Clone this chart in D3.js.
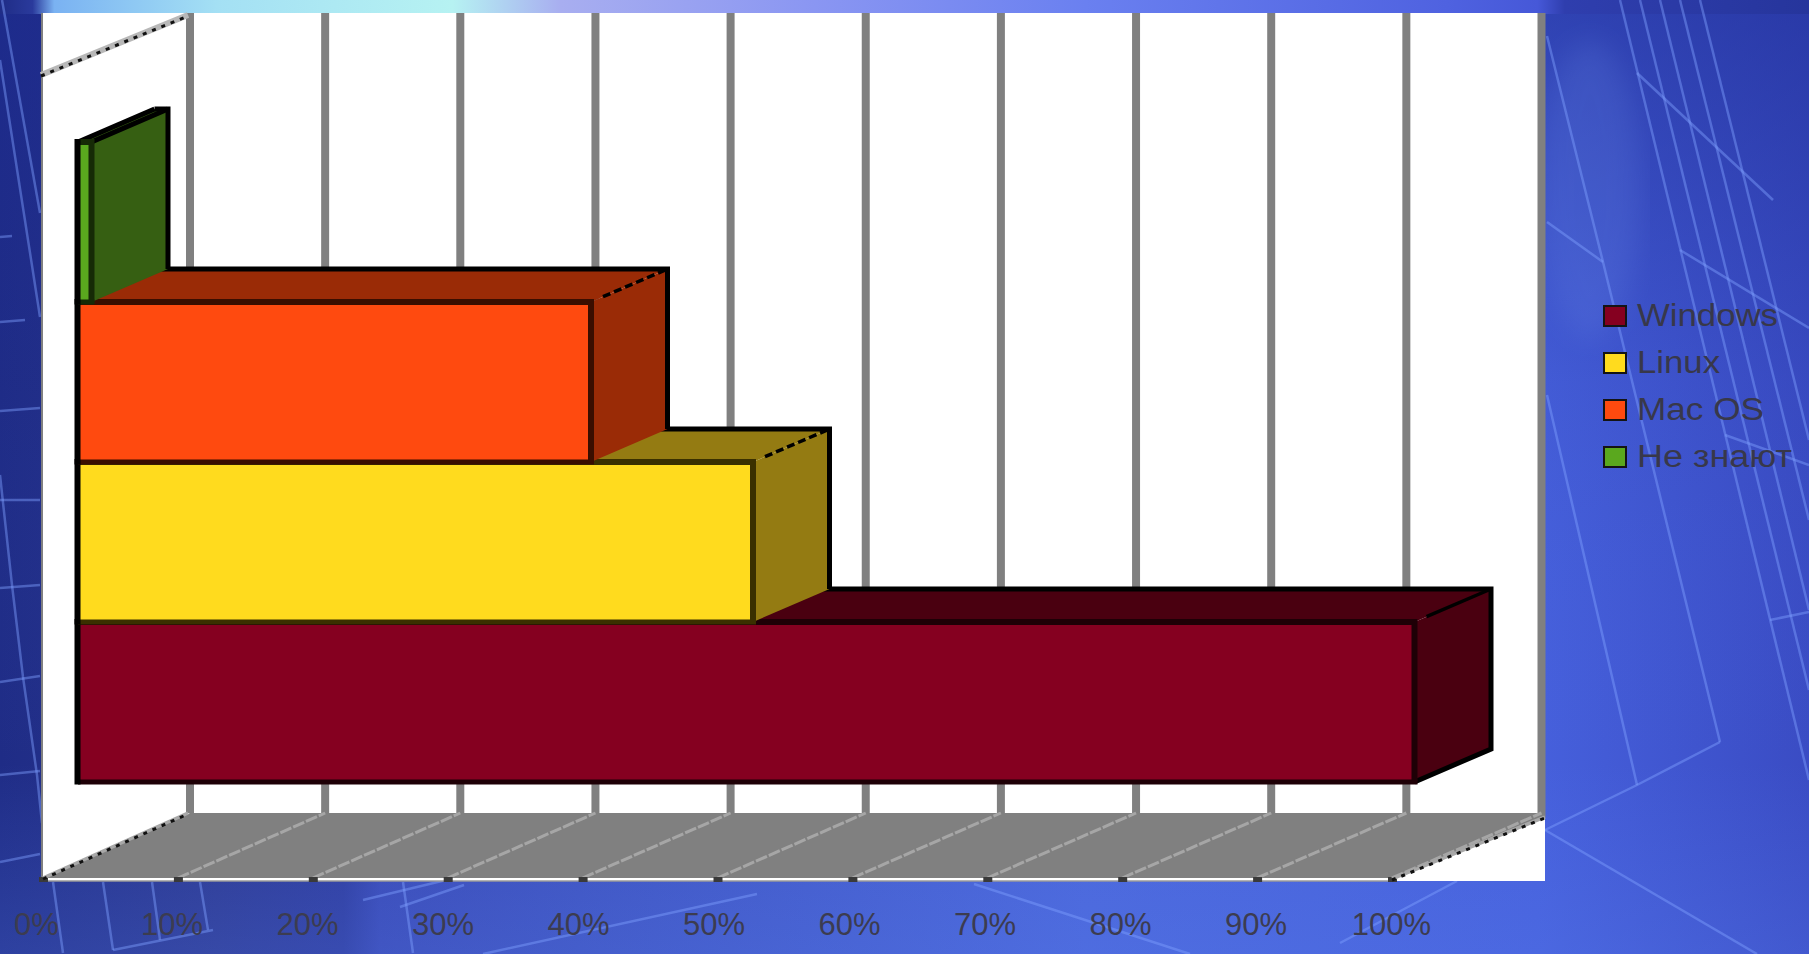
<!DOCTYPE html>
<html><head><meta charset="utf-8">
<script src="https://cdn.jsdelivr.net/npm/d3@7/dist/d3.min.js"></script>
<style>html,body{margin:0;padding:0;overflow:hidden;background:#3a4cc0}svg{display:block}</style>
</head><body><svg id="c" width="1809" height="954"></svg>
<script>
const categories = ["Windows", "Linux", "Mac OS", "Не знают"];
const values = [99, 50, 38, 1];
const tickValues = [0, 10, 20, 30, 40, 50, 60, 70, 80, 90, 100];
const faceColors = ["#850020", "#ffdb1e", "#ff4a0f", "#5aa81e"];
const sideColors = ["#4a0010", "#947b12", "#9a2b06", "#365f12"];
const edgeColors = ["#1e0006", "#3a3000", "#3a0e00", "#162a06"];

const svg = d3.select("#c");
const defs = svg.append("defs");
function grad(id, stops, x2, y2) {
  const g = defs.append("linearGradient").attr("id", id).attr("x1", 0).attr("y1", 0).attr("x2", x2).attr("y2", y2);
  stops.forEach(s => g.append("stop").attr("offset", s[0]).attr("stop-color", s[1]).attr("stop-opacity", s[2] === undefined ? 1 : s[2]));
}
grad("bgH", [[0, "#1f2c86"], [0.12, "#2b378f"], [0.19, "#2d3a9c"], [0.21, "#3848b4"], [0.32, "#3d52bf"], [0.6, "#4a66da"], [0.85, "#4660dc"], [1, "#3a4cc4"]], 1, 0);
grad("bgV", [[0, "#1c2a90", 0.55], [0.4, "#1c2a90", 0.08], [0.8, "#5a80f0", 0], [1, "#5a80f0", 0.25]], 0, 1);
grad("topStrip", [[0, "#1f2c86"], [0.018, "#2a3a9c"], [0.03, "#7ab2f2"], [0.12, "#a4e0f4"], [0.25, "#b6f2f2"], [0.31, "#a8aef0"], [0.45, "#8a96f2"], [0.6, "#6a80f0"], [0.8, "#4f62e0"], [0.85, "#4658d8"], [0.865, "#2f3eae"], [1, "#26359c"]], 1, 0);
defs.append("filter").attr("id", "soft").append("feGaussianBlur").attr("stdDeviation", 14);

// Background artwork
svg.append("rect").attr("width", 1809).attr("height", 954).attr("fill", "url(#bgH)");
svg.append("rect").attr("width", 1809).attr("height", 954).attr("fill", "url(#bgV)");
svg.append("rect").attr("width", 1809).attr("height", 14).attr("fill", "url(#topStrip)");
svg.append("ellipse").attr("cx", 1590).attr("cy", 190).attr("rx", 50).attr("ry", 150).attr("fill", "#7a9cf4").attr("opacity", 0.16).attr("filter", "url(#soft)");
const bgLines = [
  [[1547,36],[1603,262],[1720,742]], [[1547,222],[1603,262]], [[1547,395],[1637,785]],
  [[1720,742],[1637,785],[1545,830]], [[1545,830],[1757,954]],
  [[1620,0],[1809,780]], [[1640,0],[1809,690]], [[1660,0],[1809,610]], [[1680,0],[1809,520]], [[1700,0],[1809,440]],
  [[1637,73],[1773,200]], [[1680,250],[1809,328]], [[1725,435],[1809,465]], [[1770,620],[1809,612]],
  [[2,0],[40,213]], [[0,60],[40,317]], [[0,237],[12,236]], [[0,322],[25,320]], [[0,411],[40,408]], [[0,500],[40,500]],
  [[0,588],[40,585]], [[0,682],[40,676]], [[0,775],[40,771]], [[0,862],[40,854]],
  [[0,475],[12,585],[23,677],[37,775],[42,823]],
  [[974,884],[1190,954]], [[400,907],[464,885]], [[483,954],[757,894]], [[1340,943],[1457,881]],
  [[363,900],[500,867]], [[113,950],[213,930]], [[103,882],[113,950]], [[152,882],[160,940]], [[200,882],[208,930]],
  [[53,882],[63,953]], [[403,882],[413,953]]
];
const lineGen = d3.line();
svg.append("g").selectAll("path").data(bgLines).join("path")
  .attr("d", d => lineGen(d)).attr("fill", "none").attr("stroke", "#7fa0ff").attr("stroke-width", 2.5).attr("opacity", 0.45);

// Panel
const panel = {x0: 41, x1: 1545, y0: 13, y1: 881};
svg.append("rect").attr("x", panel.x0).attr("y", panel.y0).attr("width", panel.x1 - panel.x0).attr("height", panel.y1 - panel.y0).attr("fill", "#fff");
svg.append("line").attr("x1", panel.x0 + 1).attr("x2", panel.x0 + 1).attr("y1", panel.y0).attr("y2", panel.y1).attr("stroke", "#808080").attr("stroke-width", 2);

const floorFront = 878, floorBack = 813;
const xFront = d3.scaleLinear().domain([0, 100]).range([43, 1392]);
const xBack = d3.scaleLinear().domain([0, 100]).range([190, 1541.5]);
const xBar = d3.scaleLinear().domain([0, 100]).range([78, 1428]);
const yBand = d3.scaleBand().domain(categories).range([782, 142]);
const labelX = d3.scaleLinear().domain([0, 100]).range([36, 1391]);
const depth = {dx: 76.5, dy: -33};

// Back wall gridlines
svg.append("g").selectAll("line").data(tickValues).join("line")
  .attr("x1", d => xBack(d)).attr("x2", d => xBack(d)).attr("y1", panel.y0).attr("y2", floorBack)
  .attr("stroke", "#808080").attr("stroke-width", 8);

// Floor
svg.append("path").attr("fill", "#808080")
  .attr("d", lineGen([[xFront(0), floorFront], [xBack(0), floorBack], [xBack(100) + 4, floorBack], [xBack(100) + 4, floorBack + 4], [xFront(100), floorFront]]));
svg.append("g").selectAll("line").data(tickValues.slice(1, -1).concat([100])).join("line")
  .attr("x1", d => xFront(d)).attr("y1", floorFront).attr("x2", d => xBack(d)).attr("y2", floorBack)
  .attr("stroke", "#a6a6a6").attr("stroke-width", 3).attr("stroke-dasharray", "12 2");
svg.append("line").attr("x1", panel.x0).attr("x2", panel.x1).attr("y1", 879.5).attr("y2", 879.5).attr("stroke", "#fff").attr("stroke-width", 2);
svg.append("line").attr("x1", panel.x0).attr("x2", xFront(100)).attr("y1", 881).attr("y2", 881).attr("stroke", "#9a9a9a").attr("stroke-width", 1.5);
svg.append("g").selectAll("rect").data(tickValues).join("rect")
  .attr("x", d => xFront(d) - 4).attr("y", 877).attr("width", 9).attr("height", 5).attr("fill", "#3a3a3a");

// Dashed edges of the wall and floor
const dashed = [
  [[panel.x0, 75], [xBack(0) - 2, 15]],
  [[xFront(0), floorFront], [xBack(0) - 2, floorBack]],
  [[xFront(100), floorFront + 1], [panel.x1, 817]]
];
dashed.forEach((s, i) => {
  svg.append("path").attr("d", lineGen(s)).attr("stroke", i === 0 ? "#b8b8b8" : "#a8a8a8").attr("stroke-width", i === 0 ? 6 : 3.5).attr("fill", "none");
  svg.append("path").attr("d", lineGen(s.map(p => [p[0], p[1] + 1]))).attr("stroke", "#111").attr("stroke-width", 3).attr("stroke-dasharray", "4 6").attr("fill", "none");
});

// Bars: each higher bar overlaps the top face of the one below
const bars = categories.map((c, i) => ({c, v: values[i], i}));
const barG = svg.append("g").selectAll("g").data(bars).join("g");
barG.each(function (d) {
  const g = d3.select(this);
  const x0 = xBar(0), x1 = xBar(d.v), y0 = yBand(d.c), y1 = y0 + yBand.bandwidth();
  const bx0 = x0 + depth.dx, bx1 = x1 + depth.dx, by0 = y0 + depth.dy, by1 = y1 + depth.dy;
  g.append("path").attr("fill", sideColors[d.i]).attr("d", lineGen([[x0, y0], [bx0, by0], [bx1, by0], [x1, y0]]) + "Z");
  g.append("path").attr("fill", sideColors[d.i]).attr("d", lineGen([[x1, y0], [bx1, by0], [bx1, by1], [x1, y1]]) + "Z");
  // Back and right outline
  const isGreen = d.i === 3, isWindows = d.i === 0;
  const outline = isWindows ? [[bx0, by0], [bx1, by0], [bx1, by1], [x1, y1]] : [[bx0, by0], [bx1, by0], [bx1, by1]];
  g.append("path").attr("fill", "none").attr("stroke", "#000").attr("stroke-width", 5).attr("d", lineGen(outline));
  if (isGreen) {
    g.append("line").attr("x1", x0).attr("y1", y0).attr("x2", bx0).attr("y2", by0).attr("stroke", "#000").attr("stroke-width", 5);
    g.append("line").attr("x1", x1).attr("y1", y0).attr("x2", bx1).attr("y2", by0).attr("stroke", "#000").attr("stroke-width", 5);
  } else {
    g.append("line").attr("x1", x1 + 12).attr("y1", y0 - 5.3).attr("x2", bx1).attr("y2", by0)
      .attr("stroke", "#000").attr("stroke-width", 3.5).attr("stroke-dasharray", isWindows ? null : "8 4");
  }
  g.append("rect").attr("x", x0).attr("y", y0).attr("width", x1 - x0).attr("height", y1 - y0)
    .attr("fill", faceColors[d.i]);
  g.append("path").attr("fill", "none").attr("stroke", edgeColors[d.i]).attr("stroke-width", 6)
    .attr("d", lineGen([[x0, y0], [x1, y0], [x1, y1]]));
  g.append("line").attr("x1", x0).attr("x2", x1 + 3).attr("y1", y1).attr("y2", y1).attr("stroke", edgeColors[d.i]).attr("stroke-width", 5);
  g.append("path").attr("fill", "none").attr("stroke", "#000").attr("stroke-width", 6)
    .attr("d", lineGen([[x0 - 0.5, y0 - 3], [x0 - 0.5, y1 + 2.5]]));
});

// Value axis labels
const axis = d3.axisBottom(labelX).tickValues(tickValues).tickFormat(d => d + "%").tickSize(0);
const axG = svg.append("g").attr("transform", "translate(0,935)").call(axis);
axG.select(".domain").remove();
axG.selectAll("text").attr("y", 0).attr("dy", 0).attr("fill", "#3c3c50")
  .attr("font-family", "'Liberation Sans'").attr("font-size", 31);

// Legend
const legendY = d3.scalePoint().domain(categories).range([316, 457]);
const legendWidths = [141, 83, 127, 155];
const leg = svg.append("g").selectAll("g").data(categories).join("g")
  .attr("transform", d => `translate(0,${legendY(d)})`);
leg.append("rect").attr("x", 1604).attr("y", -10).attr("width", 22).attr("height", 20)
  .attr("fill", (d, i) => faceColors[i]).attr("stroke", "#141414").attr("stroke-width", 2);
leg.append("text").text(d => d).attr("x", 1637).attr("y", 10)
  .attr("font-family", "'Liberation Sans'").attr("font-size", 31).attr("fill", "#38384a")
  .attr("textLength", (d, i) => legendWidths[i]).attr("lengthAdjust", "spacingAndGlyphs");
</script></body></html>
